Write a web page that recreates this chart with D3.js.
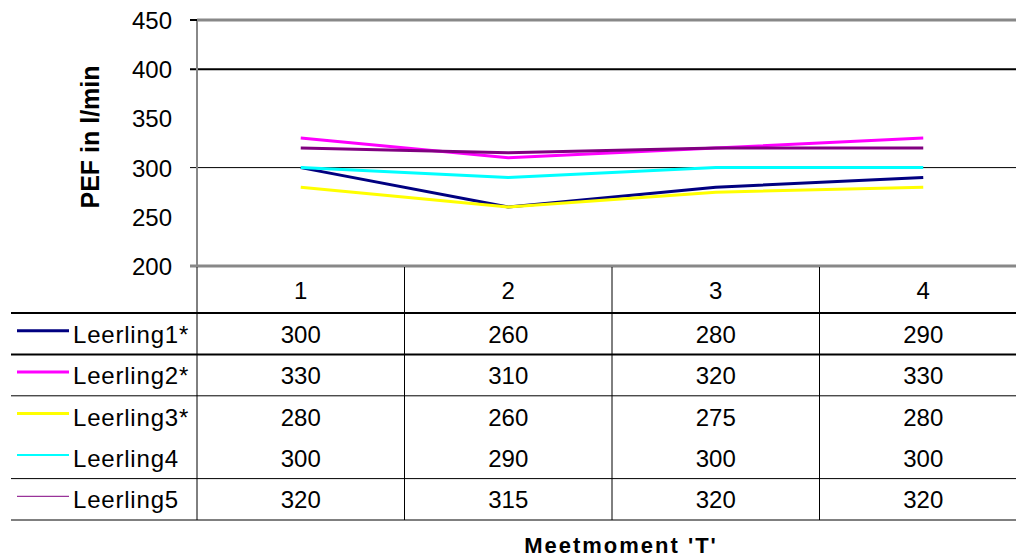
<!DOCTYPE html>
<html>
<head>
<meta charset="utf-8">
<script src="https://cdn.jsdelivr.net/npm/d3@7"></script>
<style>
  html, body { margin: 0; padding: 0; background: #fff; }
  svg { display: block; font-family: "Liberation Sans", Arial, sans-serif; }
</style>
</head>
<body>
<svg id="chart" width="1016" height="560"></svg>
<script>
// Measurement moments and PEF readings per pupil
const moments = ["1", "2", "3", "4"];
const pupils = ["Leerling1*", "Leerling2*", "Leerling3*", "Leerling4", "Leerling5"];
const leerling1 = [300, 260, 280, 290];
const leerling2 = [330, 310, 320, 330];
const leerling3 = [280, 260, 275, 280];
const leerling4 = [300, 290, 300, 300];
const leerling5 = [320, 315, 320, 320];
const yTickLabels = [200, 250, 300, 350, 400, 450];
const gridValues = [300, 400];

const seriesValues = [leerling1, leerling2, leerling3, leerling4, leerling5];
const colors = ["#000080", "#ff00ff", "#ffff00", "#00ffff", "#800080"];
const swatchWidths = [3, 3, 3, 2, 1];

const svg = d3.select("#chart");

const plotLeft = 197, plotRight = 1027, plotTop = 20, plotBottom = 266;
const x = d3.scaleBand().domain(moments).range([plotLeft, plotRight]);
const y = d3.scaleLinear().domain([200, 450]).range([plotBottom, plotTop]);

// gridlines
svg.append("g").selectAll("line").data(gridValues).join("line")
  .attr("x1", plotLeft - 7).attr("x2", 1016)
  .attr("y1", d => y(d)).attr("y2", d => y(d))
  .attr("stroke", "#000").attr("stroke-width", d => d === 400 ? 2 : 1);

// plot frame: top border and left axis
svg.append("line").attr("x1", plotLeft).attr("x2", 1016).attr("y1", y(450)).attr("y2", y(450))
  .attr("stroke", "#888").attr("stroke-width", 3);
svg.append("line").attr("x1", plotLeft).attr("x2", plotLeft).attr("y1", y(450)).attr("y2", y(200))
  .attr("stroke", "#888").attr("stroke-width", 2);

// small tick marks on the value axis
svg.append("g").selectAll("line").data([200, 450]).join("line")
  .attr("x1", plotLeft - 7).attr("x2", plotLeft)
  .attr("y1", d => y(d)).attr("y2", d => y(d))
  .attr("stroke", "#000").attr("stroke-width", 2);

// tick labels
svg.append("g").selectAll("text").data(yTickLabels).join("text")
  .attr("x", 172).attr("y", d => y(d) + 9)
  .attr("text-anchor", "end").attr("font-size", 24).attr("fill", "#000")
  .text(d => d);

// axis title
svg.append("text")
  .attr("transform", "translate(99,137) rotate(-90)")
  .attr("text-anchor", "middle").attr("font-size", 25).attr("font-weight", "bold")
  .text("PEF in l/min");

// series lines
const line = d3.line()
  .x((d, i) => x(moments[i]) + x.bandwidth() / 2)
  .y(d => y(d));
svg.append("g").selectAll("path").data(seriesValues).join("path")
  .attr("d", d => line(d))
  .attr("fill", "none")
  .attr("stroke", (d, i) => colors[i])
  .attr("stroke-width", 3)
  .attr("stroke-linejoin", "round");

// bottom axis drawn over lines
svg.append("line").attr("x1", plotLeft - 7).attr("x2", 1016).attr("y1", plotBottom).attr("y2", plotBottom)
  .attr("stroke", "#888").attr("stroke-width", 3);

// data table
const headerBottom = 313;
const rowH = 41.4;
const rowTop = i => headerBottom + i * rowH;
const tableBottom = rowTop(pupils.length);

// vertical column lines
const colEdges = moments.map(m => x(m));
svg.append("g").selectAll("line").data(colEdges).join("line")
  .attr("x1", d => d).attr("x2", d => d)
  .attr("y1", plotBottom + 1).attr("y2", tableBottom)
  .attr("stroke", "#000").attr("stroke-width", 1);

// horizontal row lines (none between the third and fourth pupil)
const hLines = [
  { y: rowTop(0), w: 2 },
  { y: rowTop(1), w: 2 },
  { y: rowTop(2), w: 1 },
  { y: rowTop(4), w: 1 },
  { y: rowTop(5), w: 1 }
];
svg.append("g").selectAll("line").data(hLines).join("line")
  .attr("x1", 11).attr("x2", 1016)
  .attr("y1", d => d.y).attr("y2", d => d.y)
  .attr("stroke", "#000").attr("stroke-width", d => d.w);

// header row
svg.append("g").selectAll("text").data(moments).join("text")
  .attr("x", d => x(d) + x.bandwidth() / 2)
  .attr("y", (plotBottom + headerBottom) / 2 + 9)
  .attr("text-anchor", "middle").attr("font-size", 24)
  .text(d => d);

// legend keys and pupil names
const rows = svg.append("g").selectAll("g").data(pupils).join("g")
  .attr("transform", (d, i) => `translate(0,${rowTop(i) + rowH / 2})`);
rows.append("line")
  .attr("x1", 17).attr("x2", 69).attr("y1", -3).attr("y2", -3)
  .attr("stroke", (d, i) => colors[i])
  .attr("stroke-width", (d, i) => swatchWidths[i]);
rows.append("text")
  .attr("x", 73).attr("y", 9)
  .attr("font-size", 24)
  .attr("letter-spacing", 0.8)
  .text(d => d);

// values in cells
rows.each(function (d, i) {
  d3.select(this).selectAll("text.val").data(seriesValues[i]).join("text")
    .attr("class", "val")
    .attr("x", (v, j) => x(moments[j]) + x.bandwidth() / 2)
    .attr("y", 9)
    .attr("text-anchor", "middle").attr("font-size", 24)
    .text(v => v);
});

// category axis title
svg.append("text")
  .attr("x", 621).attr("y", 553)
  .attr("text-anchor", "middle").attr("font-size", 22).attr("font-weight", "bold")
  .attr("letter-spacing", 2)
  .text("Meetmoment 'T'");
</script>
</body>
</html>
